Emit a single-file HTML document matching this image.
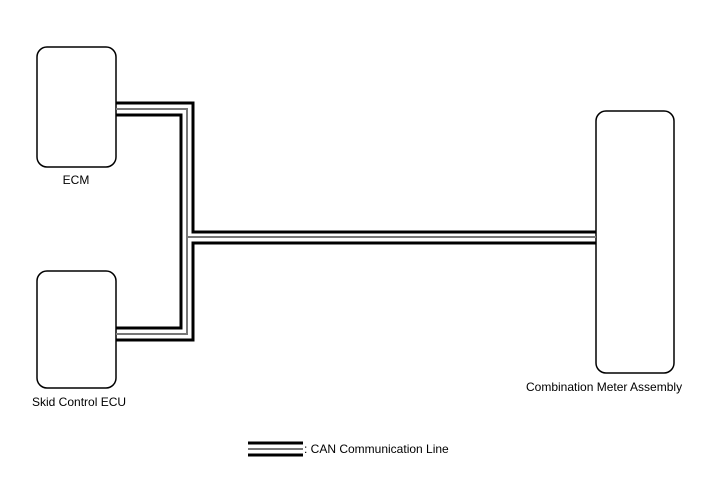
<!DOCTYPE html>
<html><head><style>
body{margin:0;background:#fff;width:713px;height:489px;overflow:hidden}
text{font-family:"Liberation Sans",sans-serif;font-size:12px;fill:#000}
</style></head><body>
<svg width="713" height="489" xmlns="http://www.w3.org/2000/svg">
<g fill="none" stroke="#000" stroke-width="1.5">
<rect x="37" y="47" width="79" height="120" rx="10"/>
<rect x="37" y="271" width="79" height="117" rx="10"/>
<rect x="596" y="111" width="78" height="262" rx="10"/>
</g>
<g fill="none" stroke-linejoin="miter">
<!-- top branch -->
<polyline points="116,103 193,103 193,232 596,232" stroke="#000" stroke-width="3"/>
<polyline points="116,109 187,109 187,237 596,237" stroke="#777" stroke-width="2"/>
<polyline points="116,115 181,115 181,328 116,328" stroke="#000" stroke-width="3"/>
<polyline points="187,237 187,334 116,334" stroke="#777" stroke-width="2"/>
<polyline points="596,243 193,243 193,340 116,340" stroke="#000" stroke-width="3"/>
<!-- legend -->
<line x1="248" y1="443" x2="303" y2="443" stroke="#000" stroke-width="3"/>
<line x1="248" y1="449" x2="303" y2="449" stroke="#777" stroke-width="2"/>
<line x1="248" y1="455" x2="303" y2="455" stroke="#000" stroke-width="3"/>
</g>
<text x="76" y="184" text-anchor="middle">ECM</text>
<text x="32" y="406">Skid Control ECU</text>
<text x="526" y="391">Combination Meter Assembly</text>
<text x="304" y="453">: CAN Communication Line</text>
</svg>
</body></html>
